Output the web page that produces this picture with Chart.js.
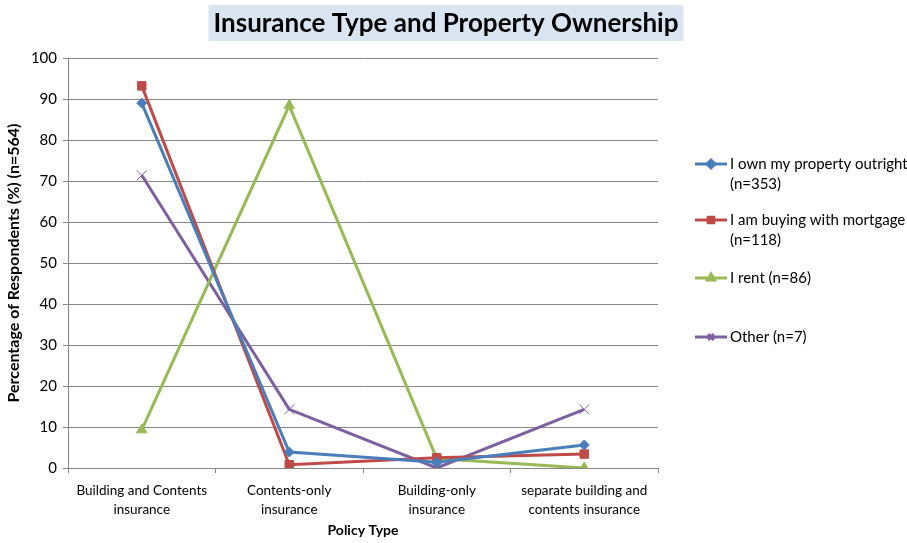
<!DOCTYPE html>
<html>
<head>
<meta charset="utf-8">
<script src="https://cdn.jsdelivr.net/npm/chart.js@4"></script>
<style>
    body { margin: 0; background: #fff; }
    #wrap { width: 907px; height: 543px; }
</style>
</head>
<body>
<div id="wrap"><canvas id="chart"></canvas></div>
<script>
// Survey data: share of respondents per policy type, by ownership group
const categories = [
    ['Building and Contents', 'insurance'],
    ['Contents-only', 'insurance'],
    ['Building-only', 'insurance'],
    ['separate building and', 'contents insurance']
];
const ownOutright = [89.0, 3.9, 1.4, 5.6];
const mortgage = [93.2, 0.8, 2.5, 3.4];
const renting = [9.3, 88.4, 2.3, 0.0];
const other = [71.4, 14.3, 0.0, 14.3];
const yTicks = [0, 10, 20, 30, 40, 50, 60, 70, 80, 90, 100];

const chartTitle = 'Insurance Type and Property Ownership';
const seriesNames = [
    ['I own my property outright', '(n=353)'],
    ['I am buying with mortgage', '(n=118)'],
    ['I rent (n=86)'],
    ['Other (n=7)']
];

const FONT = 'Lato, "Open Sans", sans-serif';
const colors = ['#4a7ebb', '#be4b48', '#98b954', '#7d60a0'];
const markers = ['rectRot', 'rect', 'triangle', 'crossRot'];
const markerSizes = [5, 6, 6, 7];
const legendY = [164, 220, 278, 337];

// Title box and side legend are painted directly on the canvas
const decorations = {
    id: 'decorations',
    afterDraw(chart) {
        const ctx = chart.ctx;
        ctx.save();

        // title with pale blue band
        ctx.font = 'bold 26px ' + FONT;
        const tw = ctx.measureText(chartTitle).width;
        const cx = 446;
        ctx.fillStyle = '#dbe5f1';
        ctx.fillRect(cx - tw / 2 - 5, 5, tw + 10, 36);
        ctx.fillStyle = '#000';
        ctx.textAlign = 'center';
        ctx.textBaseline = 'middle';
        ctx.fillText(chartTitle, cx, 24);

        // legend
        ctx.textAlign = 'left';
        ctx.font = '15px ' + FONT;
        chart.data.datasets.forEach((ds, i) => {
            const y = legendY[i];
            ctx.strokeStyle = ds.borderColor;
            ctx.lineWidth = 3;
            ctx.beginPath();
            ctx.moveTo(695, y);
            ctx.lineTo(727, y);
            ctx.stroke();
            ctx.fillStyle = ds.borderColor;
            ctx.strokeStyle = ds.borderColor;
            Chart.helpers.drawPoint(ctx, { pointStyle: ds.pointStyle, radius: 4, borderWidth: 1 }, 711, y);
            ctx.fillStyle = '#000';
            seriesNames[i].forEach((line, j) => {
                ctx.fillText(line, 730, y + j * 20);
            });
        });
        ctx.restore();
    }
};

const datasets = [ownOutright, mortgage, renting, other].map((values, i) => ({
    label: seriesNames[i].join(' '),
    data: values,
    borderColor: colors[i],
    backgroundColor: colors[i],
    borderWidth: 3,
    pointStyle: markers[i],
    pointRadius: markerSizes[i],
    pointBorderWidth: 1,
    tension: 0
}));

new Chart(document.getElementById('chart'), {
    type: 'line',
    data: { labels: categories, datasets: datasets },
    options: {
        responsive: true,
        maintainAspectRatio: false,
        animation: false,
        layout: { padding: { top: 58, right: 249, left: 0, bottom: 0 } },
        plugins: {
            legend: { display: false },
            title: { display: false },
            tooltip: { enabled: false }
        },
        scales: {
            x: {
                offset: true,
                grid: { drawOnChartArea: false, drawTicks: true, tickLength: 5, color: '#868686', offset: true },
                border: { color: '#868686', width: 1 },
                ticks: { color: '#000', font: { family: FONT, size: 13.5, lineHeight: 1.35 }, maxRotation: 0, padding: 9 },
                title: {
                    display: true,
                    text: 'Policy Type',
                    color: '#000',
                    font: { family: FONT, size: 14, weight: 'bold' },
                    padding: { top: 6 }
                },
                afterFit(scale) { scale.height = 75; }
            },
            y: {
                min: 0,
                max: 100,
                afterBuildTicks(scale) { scale.ticks = yTicks.map(v => ({ value: v })); },
                grid: { color: '#868686', tickLength: 5, lineWidth: 1 },
                border: { color: '#868686', width: 1 },
                ticks: { color: '#000', font: { family: FONT, size: 15 }, padding: 6 },
                title: {
                    display: true,
                    text: 'Percentage of Respondents (%) (n=564)',
                    color: '#000',
                    font: { family: FONT, size: 16, weight: 'bold' },
                    padding: { bottom: 2 }
                },
                afterFit(scale) { scale.width = 68; }
            }
        }
    },
    plugins: [decorations]
});
</script>
</body>
</html>
